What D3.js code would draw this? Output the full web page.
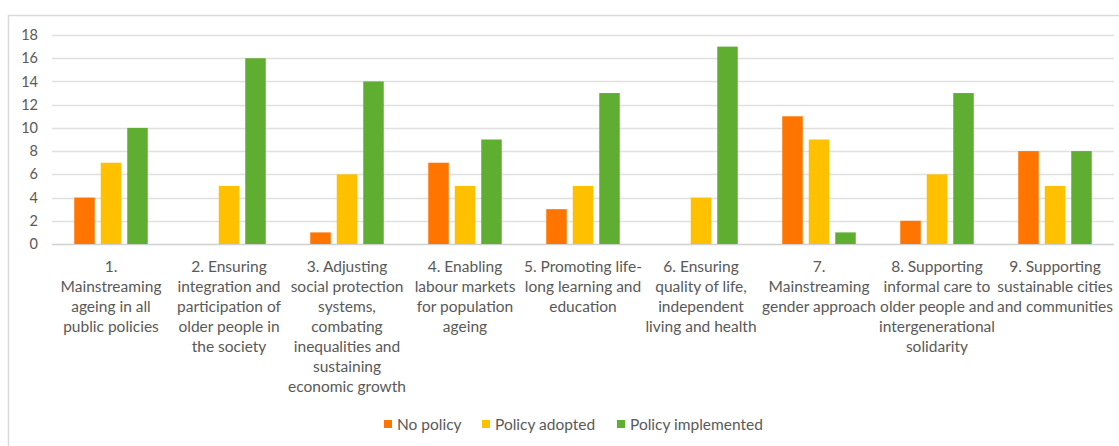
<!DOCTYPE html>
<html><head><meta charset="utf-8">
<script src="https://cdn.jsdelivr.net/npm/d3@7"></script>
<style>body{margin:0;background:#fff}svg{display:block}text{font-family:Lato,"Open Sans",sans-serif;fill:#595959}</style>
</head><body><div id="c"></div>
<script>
const categories = [
  ["1.","Mainstreaming","ageing in all","public policies"],
  ["2. Ensuring","integration and","participation of","older people in","the society"],
  ["3. Adjusting","social protection","systems,","combating","inequalities and","sustaining","economic growth"],
  ["4. Enabling","labour markets","for population","ageing"],
  ["5. Promoting life-","long learning and","education"],
  ["6. Ensuring","quality of life,","independent","living and health"],
  ["7.","Mainstreaming","gender approach"],
  ["8. Supporting","informal care to","older people and","intergenerational","solidarity"],
  ["9. Supporting","sustainable cities","and communities"]
];
const seriesNames = ["No policy","Policy adopted","Policy implemented"];
const noPolicy = [4,0,1,7,3,0,11,2,8];
const policyAdopted = [7,5,6,5,5,4,9,6,5];
const policyImplemented = [10,16,14,9,13,17,1,13,8];
const yTicks = [0,2,4,6,8,10,12,14,16,18];
const colors = ["#ff7500","#ffc000","#5fae32"];
const seriesValues = [noPolicy, policyAdopted, policyImplemented];

const W=1119,H=446;
const svg=d3.select("#c").append("svg").attr("width",W).attr("height",H);
svg.append("rect").attr("x",8.5).attr("y",15.5).attr("width",W).attr("height",H).attr("fill","none").attr("stroke","#d9d9d9").attr("stroke-width",1.5);

const x0=d3.scaleBand().domain(d3.range(categories.length)).range([52,1114]);
const y=d3.scaleLinear().domain([0,18]).range([244,35]);
const barW=20.5, step=26.5;

const g=svg.append("g");
g.selectAll("line.grid").data(yTicks).join("line")
  .attr("x1",52).attr("x2",1114).attr("y1",d=>Math.round(y(d))+0.5).attr("y2",d=>Math.round(y(d))+0.5)
  .attr("stroke",d=>d===0?"#d0d0d0":"#e0e0e0").attr("stroke-width",1.3);
const ax=svg.append("g").attr("transform","translate(38,0)").call(d3.axisLeft(y).tickValues(yTicks).tickSize(0).tickPadding(0));
ax.select(".domain").remove();
ax.selectAll("text").style("font-size","14.5px").style("fill","#595959").attr("font-family",null);

seriesValues.forEach((vals,si)=>{
  g.selectAll("rect.s"+si).data(vals).join("rect")
    .attr("x",(d,i)=>x0(i)+x0.bandwidth()/2+(si-1)*step-barW/2)
    .attr("y",d=>y(d)).attr("width",barW).attr("height",d=>y(0)-y(d))
    .attr("fill",colors[si]);
});

const lab=svg.append("g");
categories.forEach((lines,i)=>{
  const t=lab.append("text").attr("text-anchor","middle").attr("x",x0(i)+x0.bandwidth()/2).attr("y",272).style("font-size","15.5px");
  lines.forEach((l,j)=>t.append("tspan").attr("x",x0(i)+x0.bandwidth()/2).attr("dy",j?20:0).text(l));
});

const legX=[384,482,617];
const leg=svg.append("g");
seriesNames.forEach((n,i)=>{
  leg.append("rect").attr("x",legX[i]).attr("y",420).attr("width",8).attr("height",8).attr("fill",colors[i]);
  leg.append("text").attr("x",legX[i]+13).attr("y",430).style("font-size","15.5px").text(n);
});
</script></body></html>
